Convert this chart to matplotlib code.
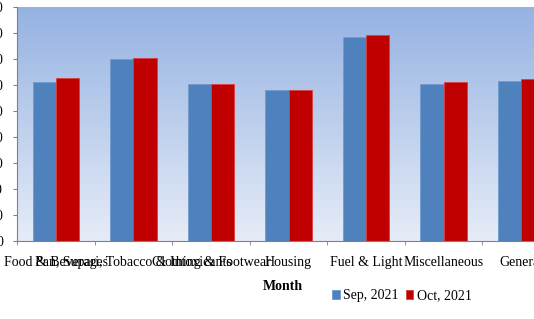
import matplotlib

matplotlib.use("Agg")
import matplotlib.pyplot as plt  # noqa: E402
import numpy as np  # noqa: E402
from matplotlib.colors import LinearSegmentedColormap  # noqa: E402

CATEGORIES = [
    "Food & Beverages",
    "Pan, Supari, Tobacco & Intoxicants",
    "Clothing & Footwear",
    "Housing",
    "Fuel & Light",
    "Miscellaneous",
    "General",
]
SEP_2021 = [122.3, 140.0, 120.8, 116.2, 156.9, 120.8, 123.1]
OCT_2021 = [125.4, 140.8, 120.8, 116.2, 158.5, 122.0, 124.6]
Y_TICKS = [0, 20, 40, 60, 80, 100, 120, 140, 160, 180]

plt.rcParams["font.family"] = ["Liberation Serif", "DejaVu Serif"]

fig = plt.figure(figsize=(5.34, 3.19), dpi=100)
ax = fig.add_axes([17 / 534, 1 - 241 / 319, 543 / 534, 234 / 319])

# gradient backdrop of the plot area
grad = LinearSegmentedColormap.from_list("bg", ["#e6ecf7", "#95b2e2"])
ax.imshow(
    np.linspace(0, 1, 256).reshape(-1, 1),
    cmap=grad,
    aspect="auto",
    origin="lower",
    extent=[-0.5, len(CATEGORIES) - 0.5, 0, 180],
    zorder=0,
)

x = np.arange(len(CATEGORIES))
w = 0.3
ax.bar(x - w / 2, SEP_2021, w, color="#4f81bd", edgecolor="#6f9bd0", linewidth=0.6,
       label="Sep, 2021", zorder=2)
ax.bar(x + w / 2, OCT_2021, w, color="#c00000", edgecolor="#d84040", linewidth=0.6,
       label="Oct, 2021", zorder=2)

ax.set_xlim(-0.5, len(CATEGORIES) - 0.5)
ax.set_ylim(0, 180)
ax.set_yticks(Y_TICKS)
ax.set_yticklabels([str(t) for t in Y_TICKS], fontsize=10)
ax.tick_params(axis="y", length=3, pad=7, color="#808080")
ax.set_xticks(x)
ax.set_xticklabels(CATEGORIES, fontsize=10)
ax.set_xticks(np.arange(len(CATEGORIES) + 1) - 0.5, minor=True)
ax.tick_params(axis="x", which="major", length=0, pad=11)
ax.tick_params(axis="x", which="minor", length=3, color="#808080")
for side in ("top", "right"):
    ax.spines[side].set_visible(False)
for side in ("left", "bottom"):
    ax.spines[side].set_color("#808080")

fig.text(283 / 534, 1 - 286 / 319, "Month", ha="center", va="center",
         fontsize=10, fontweight="bold")
fig.legend(loc="center", bbox_to_anchor=(402 / 534, 1 - 296 / 319), ncol=2,
           frameon=False, fontsize=10, handlelength=0.55, handleheight=0.55,
           handletextpad=0.25, columnspacing=0.5)

fig.savefig("out.png", dpi=100)
